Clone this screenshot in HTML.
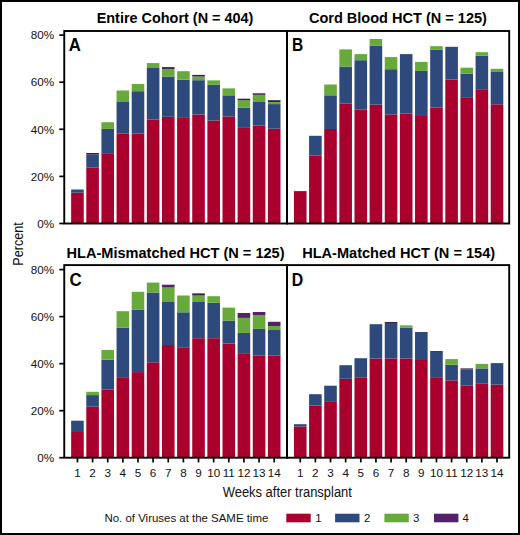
<!DOCTYPE html>
<html><head><meta charset="utf-8"><title>Viruses at the same time</title>
<style>
html,body{margin:0;padding:0;background:#fff;}
body{width:520px;height:535px;overflow:hidden;}
svg{display:block;}
text{font-family:"Liberation Sans",sans-serif;fill:#000;}
.tt{font-size:14.4px;font-weight:bold;}
.pl{font-size:17.6px;font-weight:bold;}
.yl{font-size:11.7px;text-anchor:end;fill:#111;}
.xl{font-size:11.7px;text-anchor:middle;fill:#111;}
.at{font-size:15.4px;fill:#111;}
.lg{font-size:11.45px;fill:#111;}
</style></head>
<body>
<svg width="520" height="535" viewBox="0 0 520 535">
<rect width="520" height="535" fill="#fff"/>
<rect x="71.15" y="192.70" width="12.6" height="30.80" fill="#A9002D"/>
<rect x="71.15" y="189.50" width="12.6" height="3.20" fill="#2E4A7D"/>
<rect x="86.29" y="167.60" width="12.6" height="55.90" fill="#A9002D"/>
<rect x="86.29" y="154.60" width="12.6" height="13.00" fill="#2E4A7D"/>
<rect x="86.29" y="153.00" width="12.6" height="1.60" fill="#3A1C48"/>
<rect x="101.42" y="153.20" width="12.6" height="70.30" fill="#A9002D"/>
<rect x="101.42" y="128.90" width="12.6" height="24.30" fill="#2E4A7D"/>
<rect x="101.42" y="122.20" width="12.6" height="6.70" fill="#67AA3B"/>
<rect x="116.56" y="133.70" width="12.6" height="89.80" fill="#A9002D"/>
<rect x="116.56" y="102.00" width="12.6" height="31.70" fill="#2E4A7D"/>
<rect x="116.56" y="90.50" width="12.6" height="11.50" fill="#67AA3B"/>
<rect x="131.69" y="133.60" width="12.6" height="89.90" fill="#A9002D"/>
<rect x="131.69" y="91.20" width="12.6" height="42.40" fill="#2E4A7D"/>
<rect x="131.69" y="84.00" width="12.6" height="7.20" fill="#67AA3B"/>
<rect x="146.82" y="119.60" width="12.6" height="103.90" fill="#A9002D"/>
<rect x="146.82" y="68.00" width="12.6" height="51.60" fill="#2E4A7D"/>
<rect x="146.82" y="63.10" width="12.6" height="4.90" fill="#67AA3B"/>
<rect x="161.96" y="116.80" width="12.6" height="106.70" fill="#A9002D"/>
<rect x="161.96" y="76.50" width="12.6" height="40.30" fill="#2E4A7D"/>
<rect x="161.96" y="68.90" width="12.6" height="7.60" fill="#67AA3B"/>
<rect x="161.96" y="67.10" width="12.6" height="1.80" fill="#3A1C48"/>
<rect x="177.09" y="117.90" width="12.6" height="105.60" fill="#A9002D"/>
<rect x="177.09" y="79.70" width="12.6" height="38.20" fill="#2E4A7D"/>
<rect x="177.09" y="71.20" width="12.6" height="8.50" fill="#67AA3B"/>
<rect x="192.23" y="114.50" width="12.6" height="109.00" fill="#A9002D"/>
<rect x="192.23" y="80.20" width="12.6" height="34.30" fill="#2E4A7D"/>
<rect x="192.23" y="76.50" width="12.6" height="3.70" fill="#67AA3B"/>
<rect x="192.23" y="74.90" width="12.6" height="1.60" fill="#3A1C48"/>
<rect x="207.37" y="120.50" width="12.6" height="103.00" fill="#A9002D"/>
<rect x="207.37" y="84.80" width="12.6" height="35.70" fill="#2E4A7D"/>
<rect x="207.37" y="80.40" width="12.6" height="4.40" fill="#67AA3B"/>
<rect x="222.50" y="116.40" width="12.6" height="107.10" fill="#A9002D"/>
<rect x="222.50" y="95.30" width="12.6" height="21.10" fill="#2E4A7D"/>
<rect x="222.50" y="88.40" width="12.6" height="6.90" fill="#67AA3B"/>
<rect x="237.63" y="127.20" width="12.6" height="96.30" fill="#A9002D"/>
<rect x="237.63" y="107.80" width="12.6" height="19.40" fill="#2E4A7D"/>
<rect x="237.63" y="100.20" width="12.6" height="7.60" fill="#67AA3B"/>
<rect x="237.63" y="98.70" width="12.6" height="1.50" fill="#3A1C48"/>
<rect x="252.77" y="125.60" width="12.6" height="97.90" fill="#A9002D"/>
<rect x="252.77" y="102.00" width="12.6" height="23.60" fill="#2E4A7D"/>
<rect x="252.77" y="94.80" width="12.6" height="7.20" fill="#67AA3B"/>
<rect x="252.77" y="93.30" width="12.6" height="1.50" fill="#3A1C48"/>
<rect x="267.90" y="128.70" width="12.6" height="94.80" fill="#A9002D"/>
<rect x="267.90" y="104.10" width="12.6" height="24.60" fill="#2E4A7D"/>
<rect x="267.90" y="102.00" width="12.6" height="2.10" fill="#67AA3B"/>
<rect x="267.90" y="100.20" width="12.6" height="1.80" fill="#3A1C48"/>
<rect x="293.95" y="191.10" width="12.6" height="32.40" fill="#A9002D"/>
<rect x="309.08" y="155.60" width="12.6" height="67.90" fill="#A9002D"/>
<rect x="309.08" y="135.80" width="12.6" height="19.80" fill="#2E4A7D"/>
<rect x="324.22" y="129.00" width="12.6" height="94.50" fill="#A9002D"/>
<rect x="324.22" y="95.30" width="12.6" height="33.70" fill="#2E4A7D"/>
<rect x="324.22" y="84.50" width="12.6" height="10.80" fill="#67AA3B"/>
<rect x="339.35" y="103.70" width="12.6" height="119.80" fill="#A9002D"/>
<rect x="339.35" y="66.60" width="12.6" height="37.10" fill="#2E4A7D"/>
<rect x="339.35" y="49.40" width="12.6" height="17.20" fill="#67AA3B"/>
<rect x="354.49" y="109.70" width="12.6" height="113.80" fill="#A9002D"/>
<rect x="354.49" y="60.20" width="12.6" height="49.50" fill="#2E4A7D"/>
<rect x="354.49" y="54.10" width="12.6" height="6.10" fill="#67AA3B"/>
<rect x="369.62" y="104.70" width="12.6" height="118.80" fill="#A9002D"/>
<rect x="369.62" y="45.50" width="12.6" height="59.20" fill="#2E4A7D"/>
<rect x="369.62" y="39.00" width="12.6" height="6.50" fill="#67AA3B"/>
<rect x="384.76" y="114.40" width="12.6" height="109.10" fill="#A9002D"/>
<rect x="384.76" y="69.20" width="12.6" height="45.20" fill="#2E4A7D"/>
<rect x="384.76" y="57.10" width="12.6" height="12.10" fill="#67AA3B"/>
<rect x="399.89" y="113.60" width="12.6" height="109.90" fill="#A9002D"/>
<rect x="399.89" y="54.10" width="12.6" height="59.50" fill="#2E4A7D"/>
<rect x="415.03" y="115.10" width="12.6" height="108.40" fill="#A9002D"/>
<rect x="415.03" y="70.90" width="12.6" height="44.20" fill="#2E4A7D"/>
<rect x="415.03" y="61.90" width="12.6" height="9.00" fill="#67AA3B"/>
<rect x="430.17" y="107.50" width="12.6" height="116.00" fill="#A9002D"/>
<rect x="430.17" y="49.80" width="12.6" height="57.70" fill="#2E4A7D"/>
<rect x="430.17" y="46.20" width="12.6" height="3.60" fill="#67AA3B"/>
<rect x="445.30" y="79.50" width="12.6" height="144.00" fill="#A9002D"/>
<rect x="445.30" y="46.80" width="12.6" height="32.70" fill="#2E4A7D"/>
<rect x="460.44" y="97.20" width="12.6" height="126.30" fill="#A9002D"/>
<rect x="460.44" y="73.70" width="12.6" height="23.50" fill="#2E4A7D"/>
<rect x="460.44" y="67.70" width="12.6" height="6.00" fill="#67AA3B"/>
<rect x="475.57" y="89.20" width="12.6" height="134.30" fill="#A9002D"/>
<rect x="475.57" y="55.80" width="12.6" height="33.40" fill="#2E4A7D"/>
<rect x="475.57" y="52.20" width="12.6" height="3.60" fill="#67AA3B"/>
<rect x="490.70" y="104.30" width="12.6" height="119.20" fill="#A9002D"/>
<rect x="490.70" y="72.00" width="12.6" height="32.30" fill="#2E4A7D"/>
<rect x="490.70" y="68.80" width="12.6" height="3.20" fill="#67AA3B"/>
<rect x="71.15" y="432.00" width="12.6" height="25.70" fill="#A9002D"/>
<rect x="71.15" y="420.70" width="12.6" height="11.30" fill="#2E4A7D"/>
<rect x="86.29" y="406.70" width="12.6" height="51.00" fill="#A9002D"/>
<rect x="86.29" y="395.10" width="12.6" height="11.60" fill="#2E4A7D"/>
<rect x="86.29" y="391.80" width="12.6" height="3.30" fill="#67AA3B"/>
<rect x="101.42" y="389.50" width="12.6" height="68.20" fill="#A9002D"/>
<rect x="101.42" y="359.70" width="12.6" height="29.80" fill="#2E4A7D"/>
<rect x="101.42" y="350.00" width="12.6" height="9.70" fill="#67AA3B"/>
<rect x="116.56" y="377.90" width="12.6" height="79.80" fill="#A9002D"/>
<rect x="116.56" y="327.80" width="12.6" height="50.10" fill="#2E4A7D"/>
<rect x="116.56" y="311.20" width="12.6" height="16.60" fill="#67AA3B"/>
<rect x="131.69" y="372.10" width="12.6" height="85.60" fill="#A9002D"/>
<rect x="131.69" y="309.50" width="12.6" height="62.60" fill="#2E4A7D"/>
<rect x="131.69" y="291.80" width="12.6" height="17.70" fill="#67AA3B"/>
<rect x="146.82" y="362.30" width="12.6" height="95.40" fill="#A9002D"/>
<rect x="146.82" y="292.50" width="12.6" height="69.80" fill="#2E4A7D"/>
<rect x="146.82" y="282.60" width="12.6" height="9.90" fill="#67AA3B"/>
<rect x="161.96" y="345.00" width="12.6" height="112.70" fill="#A9002D"/>
<rect x="161.96" y="302.00" width="12.6" height="43.00" fill="#2E4A7D"/>
<rect x="161.96" y="287.50" width="12.6" height="14.50" fill="#67AA3B"/>
<rect x="161.96" y="284.70" width="12.6" height="2.80" fill="#55216A"/>
<rect x="177.09" y="347.80" width="12.6" height="109.90" fill="#A9002D"/>
<rect x="177.09" y="312.30" width="12.6" height="35.50" fill="#2E4A7D"/>
<rect x="177.09" y="295.50" width="12.6" height="16.80" fill="#67AA3B"/>
<rect x="192.23" y="338.20" width="12.6" height="119.50" fill="#A9002D"/>
<rect x="192.23" y="302.00" width="12.6" height="36.20" fill="#2E4A7D"/>
<rect x="192.23" y="295.50" width="12.6" height="6.50" fill="#67AA3B"/>
<rect x="192.23" y="293.40" width="12.6" height="2.10" fill="#3A1C48"/>
<rect x="207.37" y="338.20" width="12.6" height="119.50" fill="#A9002D"/>
<rect x="207.37" y="302.80" width="12.6" height="35.40" fill="#2E4A7D"/>
<rect x="207.37" y="296.20" width="12.6" height="6.60" fill="#67AA3B"/>
<rect x="222.50" y="343.50" width="12.6" height="114.20" fill="#A9002D"/>
<rect x="222.50" y="320.60" width="12.6" height="22.90" fill="#2E4A7D"/>
<rect x="222.50" y="307.60" width="12.6" height="13.00" fill="#67AA3B"/>
<rect x="237.63" y="353.90" width="12.6" height="103.80" fill="#A9002D"/>
<rect x="237.63" y="332.90" width="12.6" height="21.00" fill="#2E4A7D"/>
<rect x="237.63" y="317.90" width="12.6" height="15.00" fill="#67AA3B"/>
<rect x="237.63" y="313.00" width="12.6" height="4.90" fill="#55216A"/>
<rect x="252.77" y="355.40" width="12.6" height="102.30" fill="#A9002D"/>
<rect x="252.77" y="328.90" width="12.6" height="26.50" fill="#2E4A7D"/>
<rect x="252.77" y="315.00" width="12.6" height="13.90" fill="#67AA3B"/>
<rect x="252.77" y="312.00" width="12.6" height="3.00" fill="#55216A"/>
<rect x="267.90" y="355.40" width="12.6" height="102.30" fill="#A9002D"/>
<rect x="267.90" y="330.00" width="12.6" height="25.40" fill="#2E4A7D"/>
<rect x="267.90" y="326.00" width="12.6" height="4.00" fill="#67AA3B"/>
<rect x="267.90" y="321.80" width="12.6" height="4.20" fill="#55216A"/>
<rect x="293.95" y="426.50" width="12.6" height="31.20" fill="#A9002D"/>
<rect x="293.95" y="424.20" width="12.6" height="2.30" fill="#2E4A7D"/>
<rect x="309.08" y="405.50" width="12.6" height="52.20" fill="#A9002D"/>
<rect x="309.08" y="394.20" width="12.6" height="11.30" fill="#2E4A7D"/>
<rect x="324.22" y="401.90" width="12.6" height="55.80" fill="#A9002D"/>
<rect x="324.22" y="385.70" width="12.6" height="16.20" fill="#2E4A7D"/>
<rect x="339.35" y="378.80" width="12.6" height="78.90" fill="#A9002D"/>
<rect x="339.35" y="365.20" width="12.6" height="13.60" fill="#2E4A7D"/>
<rect x="354.49" y="377.30" width="12.6" height="80.40" fill="#A9002D"/>
<rect x="354.49" y="358.20" width="12.6" height="19.10" fill="#2E4A7D"/>
<rect x="369.62" y="358.50" width="12.6" height="99.20" fill="#A9002D"/>
<rect x="369.62" y="324.20" width="12.6" height="34.30" fill="#2E4A7D"/>
<rect x="384.76" y="358.50" width="12.6" height="99.20" fill="#A9002D"/>
<rect x="384.76" y="323.00" width="12.6" height="35.50" fill="#2E4A7D"/>
<rect x="384.76" y="322.00" width="12.6" height="1.00" fill="#3A1C48"/>
<rect x="399.89" y="358.50" width="12.6" height="99.20" fill="#A9002D"/>
<rect x="399.89" y="327.80" width="12.6" height="30.70" fill="#2E4A7D"/>
<rect x="399.89" y="325.40" width="12.6" height="2.40" fill="#67AA3B"/>
<rect x="415.03" y="360.00" width="12.6" height="97.70" fill="#A9002D"/>
<rect x="415.03" y="332.00" width="12.6" height="28.00" fill="#2E4A7D"/>
<rect x="430.17" y="377.90" width="12.6" height="79.80" fill="#A9002D"/>
<rect x="430.17" y="351.90" width="12.6" height="26.00" fill="#2E4A7D"/>
<rect x="430.17" y="351.00" width="12.6" height="0.90" fill="#3A1C48"/>
<rect x="445.30" y="380.40" width="12.6" height="77.30" fill="#A9002D"/>
<rect x="445.30" y="364.70" width="12.6" height="15.70" fill="#2E4A7D"/>
<rect x="445.30" y="359.10" width="12.6" height="5.60" fill="#67AA3B"/>
<rect x="460.44" y="385.70" width="12.6" height="72.00" fill="#A9002D"/>
<rect x="460.44" y="369.30" width="12.6" height="16.40" fill="#2E4A7D"/>
<rect x="460.44" y="368.40" width="12.6" height="0.90" fill="#3A1C48"/>
<rect x="475.57" y="383.30" width="12.6" height="74.40" fill="#A9002D"/>
<rect x="475.57" y="368.40" width="12.6" height="14.90" fill="#2E4A7D"/>
<rect x="475.57" y="363.90" width="12.6" height="4.50" fill="#67AA3B"/>
<rect x="490.70" y="384.60" width="12.6" height="73.10" fill="#A9002D"/>
<rect x="490.70" y="363.10" width="12.6" height="21.50" fill="#2E4A7D"/>
<rect x="64.25" y="31.0" width="222.75" height="192.50" fill="none" stroke="#000" stroke-width="1.9"/>
<rect x="287.0" y="31.0" width="222.20" height="192.50" fill="none" stroke="#000" stroke-width="1.9"/>
<rect x="64.25" y="265.1" width="222.75" height="192.60" fill="none" stroke="#000" stroke-width="1.9"/>
<rect x="287.0" y="265.1" width="222.20" height="192.60" fill="none" stroke="#000" stroke-width="1.9"/>
<line x1="59.3" x2="64.25" y1="223.50" y2="223.50" stroke="#000" stroke-width="1.7"/>
<text x="54.2" y="227.70" class="yl">0%</text>
<line x1="59.3" x2="64.25" y1="176.40" y2="176.40" stroke="#000" stroke-width="1.7"/>
<text x="54.2" y="180.60" class="yl">20%</text>
<line x1="59.3" x2="64.25" y1="129.30" y2="129.30" stroke="#000" stroke-width="1.7"/>
<text x="54.2" y="133.50" class="yl">40%</text>
<line x1="59.3" x2="64.25" y1="82.20" y2="82.20" stroke="#000" stroke-width="1.7"/>
<text x="54.2" y="86.40" class="yl">60%</text>
<line x1="59.3" x2="64.25" y1="35.10" y2="35.10" stroke="#000" stroke-width="1.7"/>
<text x="54.2" y="39.30" class="yl">80%</text>
<line x1="59.3" x2="64.25" y1="457.70" y2="457.70" stroke="#000" stroke-width="1.7"/>
<text x="54.2" y="461.90" class="yl">0%</text>
<line x1="59.3" x2="64.25" y1="410.68" y2="410.68" stroke="#000" stroke-width="1.7"/>
<text x="54.2" y="414.88" class="yl">20%</text>
<line x1="59.3" x2="64.25" y1="363.65" y2="363.65" stroke="#000" stroke-width="1.7"/>
<text x="54.2" y="367.85" class="yl">40%</text>
<line x1="59.3" x2="64.25" y1="316.62" y2="316.62" stroke="#000" stroke-width="1.7"/>
<text x="54.2" y="320.82" class="yl">60%</text>
<line x1="59.3" x2="64.25" y1="269.60" y2="269.60" stroke="#000" stroke-width="1.7"/>
<text x="54.2" y="273.80" class="yl">80%</text>
<line x1="77.45" x2="77.45" y1="457.7" y2="462.4" stroke="#000" stroke-width="1.7"/>
<text x="77.45" y="477.4" class="xl">1</text>
<line x1="92.59" x2="92.59" y1="457.7" y2="462.4" stroke="#000" stroke-width="1.7"/>
<text x="92.59" y="477.4" class="xl">2</text>
<line x1="107.72" x2="107.72" y1="457.7" y2="462.4" stroke="#000" stroke-width="1.7"/>
<text x="107.72" y="477.4" class="xl">3</text>
<line x1="122.86" x2="122.86" y1="457.7" y2="462.4" stroke="#000" stroke-width="1.7"/>
<text x="122.86" y="477.4" class="xl">4</text>
<line x1="137.99" x2="137.99" y1="457.7" y2="462.4" stroke="#000" stroke-width="1.7"/>
<text x="137.99" y="477.4" class="xl">5</text>
<line x1="153.12" x2="153.12" y1="457.7" y2="462.4" stroke="#000" stroke-width="1.7"/>
<text x="153.12" y="477.4" class="xl">6</text>
<line x1="168.26" x2="168.26" y1="457.7" y2="462.4" stroke="#000" stroke-width="1.7"/>
<text x="168.26" y="477.4" class="xl">7</text>
<line x1="183.39" x2="183.39" y1="457.7" y2="462.4" stroke="#000" stroke-width="1.7"/>
<text x="183.39" y="477.4" class="xl">8</text>
<line x1="198.53" x2="198.53" y1="457.7" y2="462.4" stroke="#000" stroke-width="1.7"/>
<text x="198.53" y="477.4" class="xl">9</text>
<line x1="213.67" x2="213.67" y1="457.7" y2="462.4" stroke="#000" stroke-width="1.7"/>
<text x="213.67" y="477.4" class="xl">10</text>
<line x1="228.80" x2="228.80" y1="457.7" y2="462.4" stroke="#000" stroke-width="1.7"/>
<text x="228.80" y="477.4" class="xl">11</text>
<line x1="243.94" x2="243.94" y1="457.7" y2="462.4" stroke="#000" stroke-width="1.7"/>
<text x="243.94" y="477.4" class="xl">12</text>
<line x1="259.07" x2="259.07" y1="457.7" y2="462.4" stroke="#000" stroke-width="1.7"/>
<text x="259.07" y="477.4" class="xl">13</text>
<line x1="274.20" x2="274.20" y1="457.7" y2="462.4" stroke="#000" stroke-width="1.7"/>
<text x="274.20" y="477.4" class="xl">14</text>
<line x1="300.25" x2="300.25" y1="457.7" y2="462.4" stroke="#000" stroke-width="1.7"/>
<text x="300.25" y="477.4" class="xl">1</text>
<line x1="315.38" x2="315.38" y1="457.7" y2="462.4" stroke="#000" stroke-width="1.7"/>
<text x="315.38" y="477.4" class="xl">2</text>
<line x1="330.52" x2="330.52" y1="457.7" y2="462.4" stroke="#000" stroke-width="1.7"/>
<text x="330.52" y="477.4" class="xl">3</text>
<line x1="345.65" x2="345.65" y1="457.7" y2="462.4" stroke="#000" stroke-width="1.7"/>
<text x="345.65" y="477.4" class="xl">4</text>
<line x1="360.79" x2="360.79" y1="457.7" y2="462.4" stroke="#000" stroke-width="1.7"/>
<text x="360.79" y="477.4" class="xl">5</text>
<line x1="375.93" x2="375.93" y1="457.7" y2="462.4" stroke="#000" stroke-width="1.7"/>
<text x="375.93" y="477.4" class="xl">6</text>
<line x1="391.06" x2="391.06" y1="457.7" y2="462.4" stroke="#000" stroke-width="1.7"/>
<text x="391.06" y="477.4" class="xl">7</text>
<line x1="406.19" x2="406.19" y1="457.7" y2="462.4" stroke="#000" stroke-width="1.7"/>
<text x="406.19" y="477.4" class="xl">8</text>
<line x1="421.33" x2="421.33" y1="457.7" y2="462.4" stroke="#000" stroke-width="1.7"/>
<text x="421.33" y="477.4" class="xl">9</text>
<line x1="436.47" x2="436.47" y1="457.7" y2="462.4" stroke="#000" stroke-width="1.7"/>
<text x="436.47" y="477.4" class="xl">10</text>
<line x1="451.60" x2="451.60" y1="457.7" y2="462.4" stroke="#000" stroke-width="1.7"/>
<text x="451.60" y="477.4" class="xl">11</text>
<line x1="466.74" x2="466.74" y1="457.7" y2="462.4" stroke="#000" stroke-width="1.7"/>
<text x="466.74" y="477.4" class="xl">12</text>
<line x1="481.87" x2="481.87" y1="457.7" y2="462.4" stroke="#000" stroke-width="1.7"/>
<text x="481.87" y="477.4" class="xl">13</text>
<line x1="497.00" x2="497.00" y1="457.7" y2="462.4" stroke="#000" stroke-width="1.7"/>
<text x="497.00" y="477.4" class="xl">14</text>
<text x="96.70" y="22.8" class="tt" textLength="156.7" lengthAdjust="spacingAndGlyphs">Entire Cohort (N = 404)</text>
<text x="308.90" y="22.8" class="tt" textLength="178.0" lengthAdjust="spacingAndGlyphs">Cord Blood HCT (N = 125)</text>
<text x="66.55" y="257.6" class="tt" textLength="218.0" lengthAdjust="spacingAndGlyphs">HLA-Mismatched HCT (N = 125)</text>
<text x="302.15" y="257.6" class="tt" textLength="193.0" lengthAdjust="spacingAndGlyphs">HLA-Matched HCT (N = 154)</text>
<text x="68.7" y="50.8" class="pl" textLength="12.1" lengthAdjust="spacingAndGlyphs">A</text>
<text x="292.1" y="50.8" class="pl" textLength="11.2" lengthAdjust="spacingAndGlyphs">B</text>
<text x="69.6" y="285.6" class="pl" textLength="12.2" lengthAdjust="spacingAndGlyphs">C</text>
<text x="291.8" y="285.6" class="pl" textLength="11.4" lengthAdjust="spacingAndGlyphs">D</text>
<text transform="translate(23.3,243.9) rotate(-90) scale(0.82,1)" x="0" y="0" class="at" text-anchor="middle">Percent</text>
<text transform="translate(287.3,497.2) scale(0.84,1)" x="0" y="0" class="at" text-anchor="middle">Weeks after transplant</text>
<text x="104.5" y="521.6" class="lg">No. of Viruses at the SAME time</text>
<rect x="286.3" y="513.7" width="24.4" height="8.6" fill="#A9002D"/>
<text x="315.3" y="521.6" class="lg">1</text>
<rect x="335.1" y="513.7" width="24.4" height="8.6" fill="#2E4A7D"/>
<text x="363.9" y="521.6" class="lg">2</text>
<rect x="384.4" y="513.7" width="24.4" height="8.6" fill="#67AA3B"/>
<text x="413.0" y="521.6" class="lg">3</text>
<rect x="434.0" y="513.7" width="24.4" height="8.6" fill="#55216A"/>
<text x="462.5" y="521.6" class="lg">4</text>
<rect x="1" y="1" width="518" height="533" fill="none" stroke="#000" stroke-width="2"/>
</svg>
</body></html>
